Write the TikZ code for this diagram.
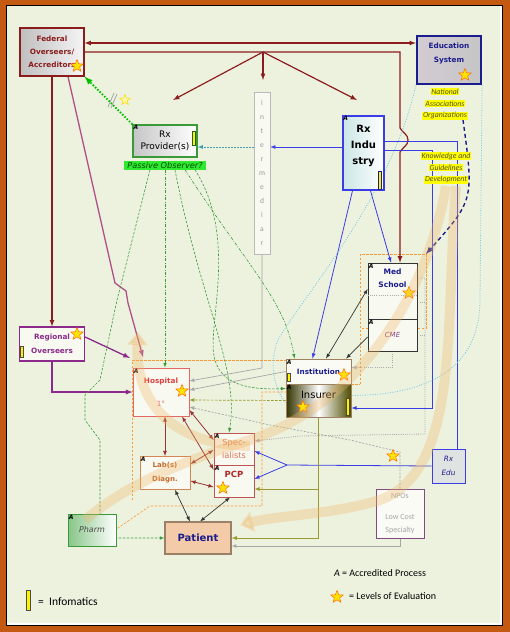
\documentclass[tikz,border=0pt]{standalone}
\usepackage{fontspec}
\setmainfont{DejaVu Sans}[ItalicFont=DejaVu Sans Oblique,BoldItalicFont=DejaVu Sans Bold Oblique]
\newfontfamily\lightfont{Carlito}
\usetikzlibrary{shapes.geometric,arrows.meta}
\definecolor{fedred}{HTML}{8B1C1C}
\definecolor{mauve}{HTML}{B0508A}
\definecolor{regpurple}{HTML}{8B2A8B}
\definecolor{navy}{HTML}{1C1C8C}
\definecolor{rxblue}{HTML}{3C3CE6}
\definecolor{provgreen}{HTML}{3A9A3A}
\definecolor{hospred}{HTML}{E04040}
\definecolor{labbrown}{HTML}{C8682A}
\definecolor{pcpred}{HTML}{B02828}
\definecolor{salmon}{HTML}{E07458}
\definecolor{patfill}{HTML}{F4CBA8}
\definecolor{panel}{HTML}{EDF2DF}
\definecolor{frameorange}{HTML}{C45A12}
\definecolor{bandorange}{HTML}{F0B463}
\definecolor{hiyellow}{HTML}{FFFF00}
\definecolor{obsgreen}{HTML}{30EA30}
\definecolor{olivegreen}{HTML}{9A9A30}
\definecolor{skyblue}{HTML}{7AC8E8}
\definecolor{tealblue}{HTML}{40A0B0}
\newcommand\hilite[1]{{\setlength{\fboxsep}{0.6pt}\colorbox{hiyellow}{#1}}}
\pgfdeclarelayer{panel}
\pgfdeclarelayer{wires}
\pgfdeclarelayer{bands}
\pgfsetlayers{panel,wires,main,bands}
\begin{document}
\begin{tikzpicture}[x=1pt,y=-1pt,>=latex,
  box/.style={draw,line width=0.8pt,align=center,inner sep=1pt},
  fedbox/.style={box,draw=fedred,line width=1.1pt,text=fedred,left color=gray!50,right color=gray!8,font=\bfseries\fontsize{7.3}{13}\selectfont},
  edubox/.style={box,draw=navy,line width=2.2pt,text=navy,left color=violet!15!gray!35,right color=gray!45,font=\bfseries\fontsize{7.3}{14}\selectfont},
  provbox/.style={box,draw=provgreen,line width=1.3pt,left color=gray!45,right color=white,font=\fontsize{9}{12}\selectfont},
  interbox/.style={box,draw=gray!55,line width=0.5pt,fill=white!60!panel,text=gray!80,font=\lightfont\fontsize{7.5}{14}\selectfont},
  indbox/.style={box,draw=rxblue,line width=1.5pt,left color=teal!20!white,right color=white,font=\bfseries\fontsize{10}{16}\selectfont},
  medbox/.style={box,draw=gray!40!black,fill=panel!40!white,text=navy,font=\bfseries\fontsize{7.5}{13}\selectfont},
  cmebox/.style={box,draw=gray!40!black,fill=panel!40!white,text=violet!50!gray,font=\itshape\fontsize{7}{9}\selectfont},
  instbox/.style={box,draw=gray!50!brown,fill=white!70!panel,text=navy,font=\bfseries\fontsize{7.3}{9}\selectfont},
  insrbox/.style={box,draw=gray!50!brown,left color=olive!40!black,right color=olive!60!black,middle color=white,font=\fontsize{10}{12}\selectfont},
  hospbox/.style={box,draw=hospred!80,fill=white!60!panel,font=\fontsize{7.3}{23}\selectfont},
  regbox/.style={box,draw=regpurple,line width=1.2pt,fill=white!60!panel,text=regpurple,font=\bfseries\fontsize{7.3}{14}\selectfont},
  specbox/.style={box,draw=pcpred!80,fill=white!60!panel,text=salmon,font=\fontsize{8.3}{13}\selectfont},
  pcpbox/.style={box,draw=pcpred!80,fill=white!60!panel,text=pcpred,font=\bfseries\fontsize{8.5}{14}\selectfont},
  labbox/.style={box,draw=labbrown!80,fill=white!60!panel,text=labbrown,font=\bfseries\fontsize{7}{14}\selectfont},
  patbox/.style={box,draw=gray!60!brown,line width=1.1pt,fill=patfill,text=navy,font=\bfseries\fontsize{10}{12}\selectfont},
  pharmbox/.style={box,draw=provgreen,left color=green!35!gray!70,right color=white,text=gray!60!black,font=\itshape\fontsize{8}{10}\selectfont},
  edubox2/.style={box,draw=rxblue,line width=0.9pt,fill=blue!6!panel,text=navy,font=\itshape\fontsize{7.3}{14}\selectfont},
  npobox/.style={box,draw=gray!60!violet,fill=white!70!panel,text=gray!70,font=\lightfont\fontsize{8}{13}\selectfont},
  hilabel/.style={align=center,inner sep=0pt,text=black!55!olive,font=\lightfont\itshape\fontsize{7.8}{11.8}\selectfont},
  obslabel/.style={fill=obsgreen,inner xsep=2pt,inner ysep=1pt,text=green!30!black,font=\itshape\fontsize{8.2}{9}\selectfont},
  legendtxt/.style={inner sep=0pt,font=\lightfont\fontsize{10}{12}\selectfont},
  amark/.style={anchor=north west,inner sep=1pt,font=\bfseries\itshape\fontsize{6}{6}\selectfont},
  evalstar/.style={star,star points=5,star point ratio=2.3,fill=yellow!85!orange,draw=orange!85!red,line width=0.5pt,minimum size=13pt,inner sep=0pt},
  infobar/.style={draw=gray!60!black,line width=0.9pt,fill=yellow,minimum width=3pt,inner sep=0pt},
  fedline/.style={draw=fedred,line width=1.2pt},
  mauveline/.style={draw=mauve,line width=1.3pt},
  purpline/.style={draw=regpurple,line width=1.3pt},
  blueline/.style={draw=rxblue,line width=0.8pt},
  tealdot/.style={draw=tealblue,line width=0.8pt,dash pattern=on 1.5pt off 1.5pt},
  greendot/.style={draw=green!75!black,line width=1.8pt,dash pattern=on 1.5pt off 1.7pt},
  greendash/.style={draw=provgreen,line width=0.6pt,dash pattern=on 2.5pt off 1.5pt},
  greendashdot/.style={draw=provgreen,line width=0.6pt,dash pattern=on 3pt off 1.5pt on 0.8pt off 1.5pt},
  skydot/.style={draw=skyblue,line width=0.8pt,dash pattern=on 1pt off 1.5pt},
  edudash/.style={draw=navy,line width=1.4pt,dash pattern=on 4pt off 3pt},
  greyline/.style={draw=gray!70,line width=0.7pt},
  greydash/.style={draw=gray!70,line width=0.7pt,dash pattern=on 2pt off 1.5pt},
  greydot/.style={draw=gray!65,line width=0.8pt,dash pattern=on 1pt off 1.2pt},
  olivedash/.style={draw=olivegreen,line width=0.7pt,dash pattern=on 2.5pt off 1.5pt},
  oliveline/.style={draw=olivegreen,line width=0.8pt},
  redlink/.style={draw=fedred!90,line width=0.8pt},
  blacklink/.style={draw=black!80,line width=0.7pt},
  orangedash/.style={draw=orange!80,line width=0.6pt,dash pattern=on 2.5pt off 1.5pt},
  band/.style={draw=bandorange,line width=10pt,opacity=0.32}]
\useasboundingbox (0,0) rectangle (510,632);
\begin{pgfonlayer}{panel}
  \fill[frameorange] (0,0) rectangle (510,632);
  \fill[white] (6,5) rectangle (503,626);
  \draw[black,line width=0.6pt] (6.5,5.5) rectangle (502.5,625.5);
  \fill[panel] (7,6) rectangle (500,623);
\end{pgfonlayer}

% boxes
\node[fedbox,minimum width=64,minimum height=48] (fed) at (52,52) {Federal\\Overseers/\\Accreditors};
\node[edubox,minimum width=64,minimum height=48] (edu) at (449,60) {Education\\System\\\mbox{}};
\node[provbox,minimum width=64,minimum height=32] (prov) at (165,141) {Rx\\Provider(s)};
\node[interbox,minimum width=16,minimum height=162] (inter) at (262,173) {i\\n\\t\\e\\r\\m\\e\\d\\i\\a\\r};
\node[indbox,minimum width=41,minimum height=74] (ind) at (363.5,153) {Rx\\Indu\\stry\\\mbox{}};
\node[medbox,minimum width=49,minimum height=56] (med) at (392.5,291) {Med\\School\\\mbox{}\\\mbox{}};
\node[cmebox,minimum width=49,minimum height=32] (cme) at (392.5,335) {CME};
\node[instbox,minimum width=65,minimum height=25] (inst) at (318.5,371.5) {Institution};
\node[insrbox,minimum width=65,minimum height=33] (insr) at (318.5,400.5) {Insurer\\\mbox{}};
\node[hospbox,minimum width=56,minimum height=48] (hosp) at (161,392) {\textcolor{hospred}{\bfseries Hospital}\\\textcolor{hospred!75}{1°}};
\node[regbox,minimum width=65,minimum height=34] (reg) at (52,344) {Regional\\Overseers};
\node[specbox,minimum width=40,minimum height=32] (spec) at (234,449) {Spec-\\ialists};
\node[pcpbox,minimum width=40,minimum height=32] (pcp) at (234,481) {PCP\\\mbox{}};
\node[labbox,minimum width=50,minimum height=33] (lab) at (165,473) {Lab(s)\\Diagn.};
\node[patbox,minimum width=66,minimum height=32] (pat) at (198,538) {Patient};
\node[pharmbox,minimum width=48,minimum height=32] (pharm) at (92,530) {Pharm};
\node[edubox2,minimum width=33,minimum height=34] (rxedu) at (448.5,466) {Rx\\Edu};
\node[npobox,minimum width=48,minimum height=49] (npo) at (400,513.5) {NPOs\\[8pt]Low Cost\\Specialty};
\draw[greydot] ([yshift=-4pt]med.west) -- ([yshift=-4pt]med.east);

% labels
\node[hilabel] (natl) at (445,104) {\hilite{National}\\\hilite{Associations}\\\hilite{Organizations}};
\node[hilabel] (know) at (446,168) {\hilite{Knowledge and}\\\hilite{Guidelines}\\\hilite{Development}};
\node[obslabel,minimum width=82] (pobs) at (165,165.5) {Passive Observer?};

% accreditation marks
\foreach \b in {prov,ind,med,cme,inst,insr,hosp,spec,pcp,lab,pharm}
  \node[amark] (\b-mark) at (\b.north west) {A};

% levels of evaluation
\node[evalstar] (fed-star) at (77,66) {};
\node[evalstar] (edu-star) at (465,75) {};
\node[evalstar] (med-star) at (409,293) {};
\node[evalstar] (inst-star) at (344,375) {};
\node[evalstar] (insr-star) at (303,407) {};
\node[evalstar] (hosp-star) at (182,391) {};
\node[evalstar] (reg-star) at (77,334) {};
\node[evalstar] (pcp-star) at (223,488) {};
\node[evalstar] (npo-star) at (393,456) {};
\node[evalstar,fill=yellow!35,draw=yellow!75!orange,minimum size=11pt] (brk-star) at (125,100) {};

% informatics
\node[infobar,draw=provgreen!60!black,minimum height=14pt] (prov-info) at (194,138) {};
\node[infobar,draw=navy,minimum height=18pt] (ind-info) at (380,180) {};
\node[infobar,minimum height=8pt] (inst-info) at (288.5,377) {};
\node[infobar,draw=olive!40!black,minimum height=17pt] (insr-info) at (347.5,406.5) {};
\node[infobar,minimum height=11pt] (reg-info) at (22,352) {};

% legend
\node[legendtxt] (leg-a) at (380,573) {\textit{A} = Accredited Process};
\node[evalstar] (leg-star) at (337,597) {};
\node[legendtxt,anchor=west] (leg-eval) at (349,596) {= Levels of Evaluation};
\node[infobar,minimum width=4pt,minimum height=20pt] (leg-info) at (28,600) {};
\node[legendtxt,anchor=west,font=\lightfont\fontsize{11.5}{12}\selectfont] (leg-infotxt) at (38,602) {=\ \ Infomatics};

\begin{pgfonlayer}{wires}
  % frames
  \draw[orangedash] (360,384) -- (360,254) -- (426,254) -- (426,328) -- (360,328);
  \draw[orangedash] (351,384) -- (360,384);
  \draw[orangedash] (132,500) -- (132,360) -- (287,360);
  \draw[orangedash] (287,392) -- (262,392) -- (262,506) -- (150,506) -- (115,530);
  % federal level
  \coordinate (fork) at (263,52);
  \coordinate (forkS) at (263,80);
  \coordinate (forkW) at (173,100);
  \coordinate (forkE) at (357,100);
  \coordinate (hospin) at (143,357);
  \coordinate (regin) at (130,358);
  \draw[fedline,<->] ([yshift=9pt]fed.east) -- ([yshift=17pt]edu.west);
  \draw[fedline,->] (fed.east) -- (400,52) -- (400,128) to[out=-60,in=90] (408,140)
    to[out=-90,in=60] (400,152) -- ([xshift=7.5pt]med.north);
  \draw[fedline,->] (fork) -- (forkS);
  \draw[fedline,->] (fork) -- (forkW);
  \draw[fedline,->] (fork) -- (forkE);
  \draw[fedline,->] (fed.south) -- (reg.north);
  \draw[mauveline,->] ([xshift=16pt]fed.south) -- (115,283) -- (126,291) -- (128,303) -- (hospin);
  \draw[greendot,->] (prov.north west) -- (fed.south east);
  \draw[gray!70,line width=0.8pt] (108,107) -- (114,93) (111,108) -- (117,94);
  % regional
  \draw[purpline,->] ([yshift=7pt]reg.east) -- (regin);
  \draw[purpline,->] (reg.south) |- (hosp.west);
  % industry
  \coordinate (indw) at ([yshift=6pt]ind.west);
  \coordinate (indr) at ([yshift=12pt]ind.east);
  \coordinate (indq) at ([yshift=3pt]ind.east);
  \coordinate (bluedrop) at (432,408);
  \coordinate (edusplit) at (287,465);
  \draw[blueline,->] (indw) -- (indw -| inter.east);
  \draw[tealdot,->] (indw -| inter.west) -- (indw -| prov.east);
  \draw[blueline,->] ([xshift=7pt]ind.south) -- ([xshift=-1.5pt]med.north);
  \draw[blueline,->] ([xshift=-11pt]ind.south) -- ([xshift=-6pt]inst.north);
  \draw[blueline] (indr) -| ([xshift=8.5pt]rxedu.north);
  \draw[blueline,->] (indq) -| (bluedrop) -- (bluedrop -| insr.east);
  \draw[blueline] (rxedu.west) -- (edusplit);
  \draw[blueline,->] (edusplit) -- ([yshift=-2pt]spec.east);
  \draw[blueline,->] (edusplit) -- ([yshift=2pt]pcp.east);
  % education
  \coordinate (medcorner) at (426,254);
  \draw[edudash,->] ([xshift=18pt]natl.south) .. controls (474,200) .. (medcorner);
  \draw[skydot] (edu.south west) .. controls (390,200) and (300,300) .. (278,340)
    .. controls (268,365) and (275,390) .. ([yshift=-2pt]insr.west);
  \draw[skydot] (edu.south east) -- (480,300) .. controls (480,360) and (440,395) .. ([yshift=5pt]insr.east);
  % provider
  \draw[greendash,->] ([xshift=-15pt]pobs.south) -- (117,300) -- (100,380) -- (85,395)
    -- (85,420) -- (100,440) |- (pat.west);
  \draw[greendashdot,->] (pobs.south) -- ([xshift=4pt]hosp.north);
  \draw[greendash,->] ([xshift=10pt]pobs.south) .. controls (200,300) and (240,370) .. ([xshift=-5pt]spec.north);
  \draw[greendashdot,->] ([xshift=20pt]pobs.south) .. controls (250,270) and (285,300) .. ([xshift=-24pt]inst.north);
  \draw[greendash,->] ([xshift=30pt]pobs.south) .. controls (240,240) and (205,330) .. (215,360)
    .. controls (222,385) and (250,390) .. ([yshift=12pt]insr.west);
  % into hospital
  \draw[greyline,->] (inter.south) -- (262,368) -- ([yshift=11pt]hosp.east);
  \draw[greyline,->] (inst.west) -- ([yshift=2pt]hosp.east);
  \draw[olivedash,->] (insr.west) -- ([yshift=-8pt]hosp.east);
  \draw[greydash,->] (npo.north) -- (400,452) -- (350,440) -- (270,425) -- ([yshift=-15pt]hosp.east);
  % care links
  \draw[redlink,<->] ([xshift=4pt]hosp.south) -- (lab.north);
  \draw[redlink,<->] ([xshift=21pt]hosp.south) -- ([yshift=-5pt]pcp.north west);
  \draw[redlink,<->] ([yshift=-18pt]hosp.east) -- ([yshift=9pt]spec.west);
  \draw[redlink,<->] ([yshift=9pt]lab.east) -- ([yshift=-1pt]spec.west);
  \draw[redlink,<->] ([yshift=-8pt]lab.east) -- ([yshift=-6pt]pcp.west);
  \draw[blacklink,<->] ([xshift=10pt]lab.south) -- ([xshift=-8pt]pat.north);
  \draw[blacklink,<->] ([xshift=-4pt]pcp.south) -- ([xshift=2pt]pat.north);
  \draw[blacklink,<->] ([xshift=7.5pt]inst.north) -- ([yshift=2pt]med.west);
  \draw[blacklink,<-] ([xshift=27.5pt]inst.north) -- ([yshift=-2pt]cme.west);
  % school
  \coordinate (meddrop) at (425,434);
  \draw[greydot,->] (cme.south) |- ([yshift=4pt]inst.east);
  \draw[greydot,->] ([yshift=13pt]med.east) -| (meddrop) -- (300,436) -- ([yshift=8pt]spec.east);
  \draw[greydot] ([yshift=-11pt]med.east) -- +(8,0);
  \draw[greydot] (cme.east) -- +(8,0);
  % to patient
  \coordinate (oliveknot) at (318.5,489);
  \draw[oliveline,->] (insr.south) |- (pat.east);
  \draw[oliveline,->] (oliveknot) -- ([yshift=-8pt]pcp.east);
  \draw[greyline,->] (npo.south) |- ([yshift=-8pt]pat.east);
\end{pgfonlayer}

\begin{pgfonlayer}{bands}
  \draw[band] (446,186) .. controls (430,280) and (370,400) .. (250,440)
    .. controls (170,465) and (120,490) .. (85,520);
  \draw[band,-{Triangle[length=13pt,width=20pt]}] (250,446) .. controls (170,445) and (135,400) .. (138,332);
  \draw[band,-{Triangle[length=13pt,width=20pt]}] (456,186) .. controls (445,330) and (460,470) .. (380,500)
    .. controls (330,515) and (280,515) .. (240,525);
\end{pgfonlayer}
\end{tikzpicture}
\end{document}
